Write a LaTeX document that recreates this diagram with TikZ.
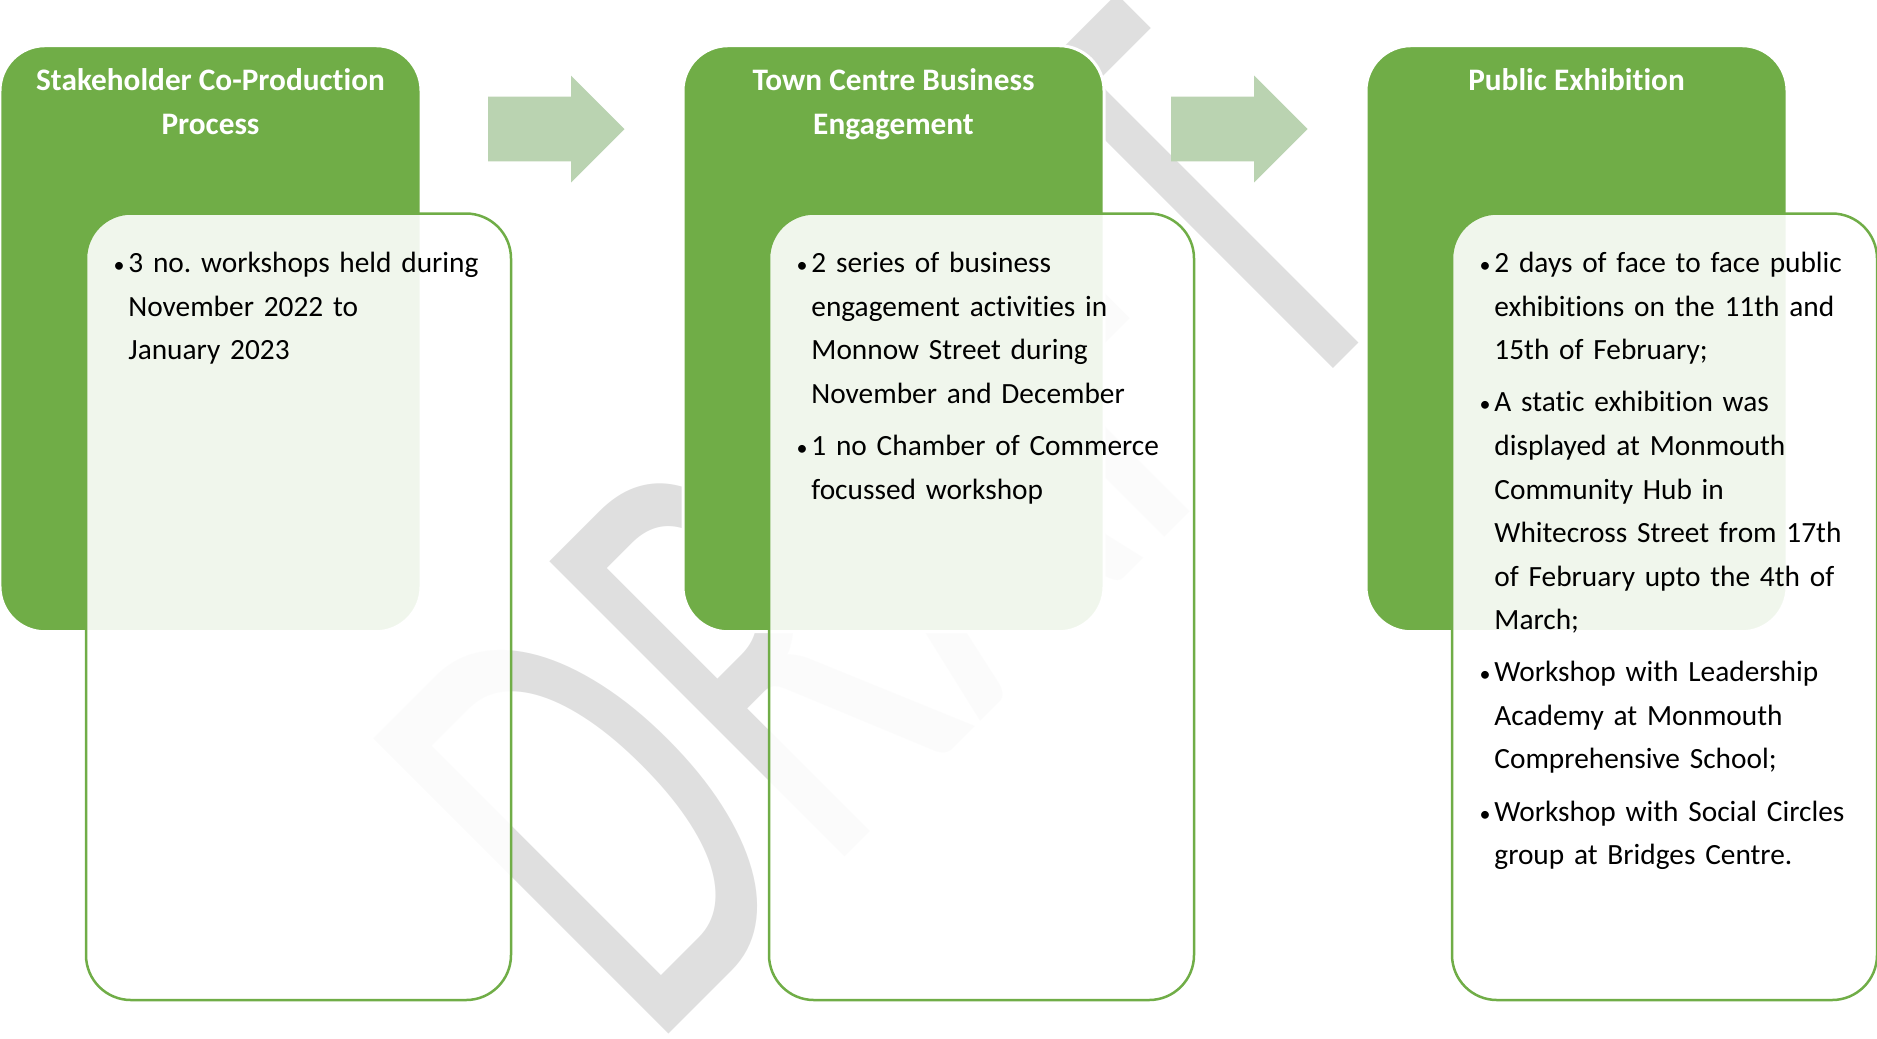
\documentclass[tikz,border=0pt]{standalone}
\usepackage{fontspec}
\setmainfont{Carlito}[Ligatures=NoCommon]
\usepackage{graphicx}
\usetikzlibrary{shapes,arrows,positioning,calc}

\definecolor{boxgreen}{HTML}{70AD47}
\definecolor{flowgreen}{HTML}{BAD3B1}
\definecolor{draftgray}{HTML}{DFDFDF}
\newlength{\bulletgap}
\setlength{\bulletgap}{0.147cm}
\newcommand{\bitem}{\hangindent=\bulletgap\hangafter=1\noindent\makebox[\bulletgap][l]{\strut\scalebox{0.75}{\textbullet}}}
\frenchspacing

\begin{document}
\begin{tikzpicture}[
    header/.style={rectangle, draw=white, line width=0.03cm, fill=boxgreen, rounded corners=0.45cm, minimum width=4.21cm, minimum height=5.86cm, inner sep=0pt, outer sep=0pt},
    headtext/.style={text=white, font=\fontsize{8.9}{12.4}\selectfont\bfseries, align=center, inner sep=0pt},
    panel/.style={rectangle, draw=boxgreen, line width=0.025cm, fill=white, fill opacity=0.9, rounded corners=0.45cm, minimum width=4.25cm, minimum height=7.865cm, inner sep=0pt, outer sep=0pt},
    bullets/.style={text width=3.9cm, font=\fontsize{8.35}{12.4}\selectfont, inner sep=0pt, execute at begin node={\setlength{\parskip}{2.4pt}}},
    flow/.style={single arrow, fill=flowgreen, minimum height=1.365cm, text height=0.3175cm, text depth=0.3175cm, inner sep=0pt, outer sep=0pt, single arrow head extend=0.21cm, single arrow tip angle=90},
    draft/.style={text=draftgray, font=\fontsize{115}{115}\selectfont, inner sep=0pt, rotate=45, anchor=base west}
]
    \useasboundingbox (0,0) rectangle (18.77,-10.38);

    \node [draft] (wm) at (6.485,-10.535) {\scalebox{1}[1.61]{DRAFT}};

    \node [header, anchor=north west] (hdr1) at (0,-0.457) {};
    \node [header, right=2.62cm of hdr1] (hdr2) {};
    \node [header, right=2.62cm of hdr2] (hdr3) {};

    \node [flow, anchor=tail] (arr1) at ($(hdr1.north east)+(0.67,-0.833)$) {};
    \node [flow, anchor=tail] (arr2) at ($(hdr2.north east)+(0.67,-0.833)$) {};

    \node [headtext, below=0.138cm of hdr1.north] (ttl1) {\strut Stakeholder Co-Production\\Process};
    \node [headtext, below=0.138cm of hdr2.north] (ttl2) {\strut Town Centre Business\\Engagement};
    \node [headtext, below=0.138cm of hdr3.north] (ttl3) {\strut Public Exhibition};

    \node [panel, below right=1.678cm and 0.86cm of hdr1.north west] (pan1) {};
    \node [panel, below right=1.678cm and 0.86cm of hdr2.north west] (pan2) {};
    \node [panel, below right=1.678cm and 0.86cm of hdr3.north west] (pan3) {};

    \node [bullets, below right=0.28cm and 0.27cm of pan1.north west] (lst1) {%
        \bitem 3 no. workshops held during\newline November 2022 to\newline January 2023\par};
    \node [bullets, below right=0.28cm and 0.27cm of pan2.north west] (lst2) {%
        \bitem 2 series of business\newline engagement activities in\newline Monnow Street during\newline November and December
        \par\bitem 1 no Chamber of Commerce\newline focussed workshop\par};
    \node [bullets, below right=0.28cm and 0.27cm of pan3.north west] (lst3) {%
        \bitem 2 days of face to face public\newline exhibitions on the 11th and\newline 15th of February;
        \par\bitem A static exhibition was\newline displayed at Monmouth\newline Community Hub in\newline Whitecross Street from 17th\newline of February upto the 4th of\newline March;
        \par\bitem Workshop with Leadership\newline Academy at Monmouth\newline Comprehensive School;
        \par\bitem Workshop with Social Circles\newline group at Bridges Centre.\par};
\end{tikzpicture}
\end{document}
